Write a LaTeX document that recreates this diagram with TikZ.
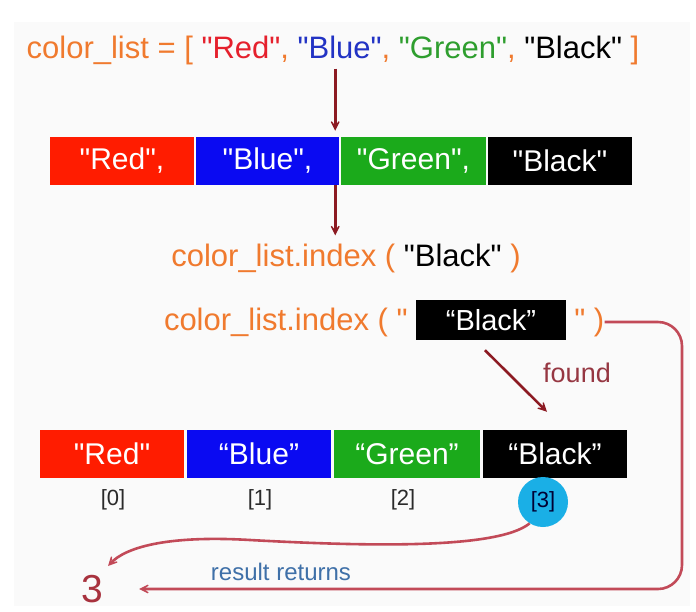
\documentclass[tikz,border=0pt]{standalone}
\usepackage{fontspec}
\setmainfont{Liberation Sans}[Ligatures=TeXOff]
\usetikzlibrary{arrows.meta,calc}

\definecolor{corange}{HTML}{F07A2E}
\definecolor{cred}{HTML}{E5202C}
\definecolor{cblue}{HTML}{2233C4}
\definecolor{cgreen}{HTML}{2E9E2E}
\definecolor{segred}{HTML}{FF1C00}
\definecolor{segblue}{HTML}{0A0AF2}
\definecolor{seggreen}{HTML}{1BAA1B}
\definecolor{darrow}{HTML}{8C1A22}
\definecolor{larrow}{HTML}{C24A58}
\definecolor{foundc}{HTML}{963742}
\definecolor{resblue}{HTML}{3F70A8}
\definecolor{hlcyan}{HTML}{1AAFE6}
\definecolor{idxc}{HTML}{2A2A2A}
\definecolor{threec}{HTML}{A8323E}
\definecolor{panel}{HTML}{FAFAFA}

\newcommand{\fs}[1]{\fontsize{#1}{#1}\selectfont}

\tikzset{
  code/.style={inner sep=0pt, text=corange, font=\fs{31}},
  seg/.style={minimum height=48pt, inner sep=0pt, text=white, font=\fs{30}},
  idx/.style={inner sep=0pt, text=idxc, font=\fs{22}},
  darr/.style={draw=darrow, line width=2.6pt,
    -{Stealth[length=15pt,width=15pt,inset=10pt]}},
  larr/.style={draw=larrow, line width=2.6pt,
    -{Stealth[length=15pt,width=15pt,inset=10pt]}},
}

\begin{document}
\begin{tikzpicture}[x=1pt,y=-1pt]
  \useasboundingbox (0,0) rectangle (696,611);
  \fill[white] (0,0) rectangle (696,611);
  \fill[panel] (14,22) rectangle (690,606);

  % the list literal
  \node[code] (title) at (333,50)
    {color\_list = [ \textcolor{cred}{"Red"}, \textcolor{cblue}{"Blue"}, \textcolor{cgreen}{"Green"}, \textcolor{black}{"Black"} ]};

  % list as stored
  \node[seg, fill=segred,   minimum width=144pt] (r1) at (122,161)   {"Red",};
  \node[seg, fill=segblue,  minimum width=143pt] (b1) at (267.5,161) {"Blue",};
  \node[seg, fill=seggreen, minimum width=145pt] (g1) at (413.5,161) {"Green",};
  \node[seg, fill=black,    minimum width=144pt] (k1) at (560,161)   {"Black"};

  % the index call
  \node[code] (call) at (346,258) {color\_list.index ( \textcolor{black}{"Black"} )};

  \node[fill=black, text=white, minimum width=150pt, minimum height=40pt,
        inner sep=0pt, font=\fs{29}] (kbox) at (491,320) {“Black”};
  \node[code, anchor=east] (pre) at ($(kbox.west)+(-8,2)$) {color\_list.index ( "};
  \node[code, anchor=west] (post) at ($(kbox.east)+(8,2)$) {" )};

  % list with positions
  \node[seg, fill=segred,   minimum width=144pt] (r2) at (112,454)   {"Red"};
  \node[seg, fill=segblue,  minimum width=144pt] (b2) at (259,454)   {“Blue”};
  \node[seg, fill=seggreen, minimum width=146pt] (g2) at (407,454)   {“Green”};
  \node[seg, fill=black,    minimum width=144pt] (k2) at (555,454)   {“Black”};

  \node[idx] (i0) at (113,500) {[0]};
  \node[idx] (i1) at (260,500) {[1]};
  \node[idx] (i2) at (403,500) {[2]};
  \node[idx, circle, fill=hlcyan, minimum size=50pt, text=black!80!blue] (i3) at (543,502) {[3]};

  \node[inner sep=0pt, text=foundc, font=\fs{27}] (found) at (577,373) {found};
  \node[inner sep=0pt, text=resblue, font=\fs{24}] (res) at (281,572) {result returns};
  \node[inner sep=0pt, text=threec, font=\fs{39}] (three) at (92,589) {3};

  \coordinate (rightedge) at (682,0);

  % arrows
  \draw[darr] (title.south -| b1.east) ++(-4,4) -- ($(b1.north east)+(-4,-6)$);
  \draw[darr] ($(b1.south east)+(-4,0)$) -- ($(call.north -| b1.east)+(-4,-8)$);
  \draw[darr] ($(kbox.south)+(-6,10)$) -- ($(k2.north)+(-8,-18)$);

  \draw[larr, rounded corners=24pt] (post.east) -| (three -| rightedge)
    -- ($(three.east)+(36,0)$);

  \draw[larr] (i3.238) .. controls (497,550) and (360,546) .. (250,540)
    .. controls (165,535) and (125,548) .. ($(three.north east)+(5,-9)$);
\end{tikzpicture}
\end{document}
